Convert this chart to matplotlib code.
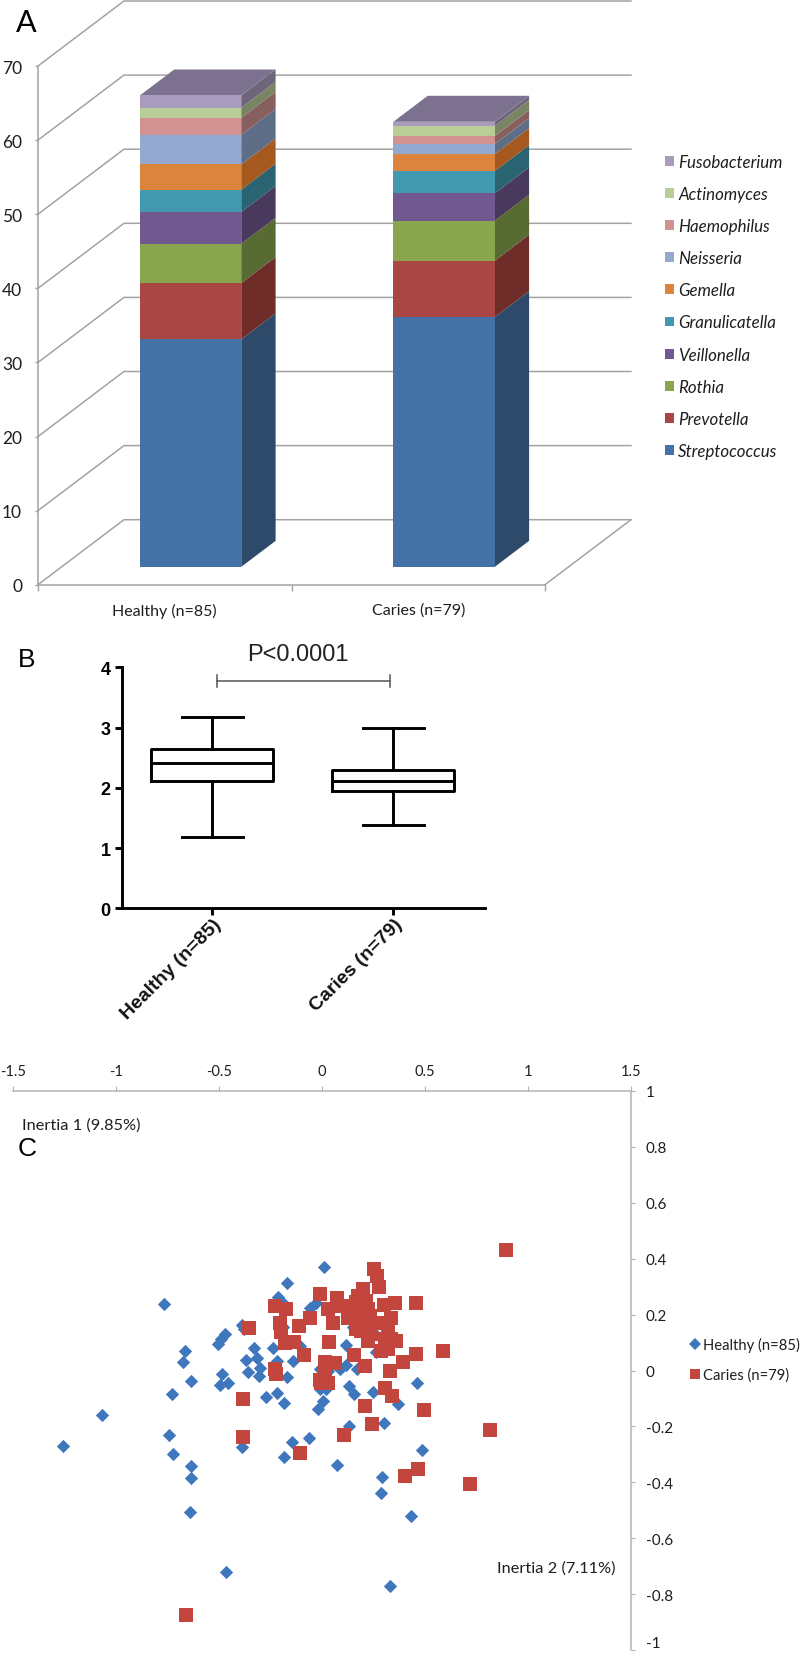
import matplotlib
matplotlib.use("Agg")
import matplotlib.pyplot as plt
from matplotlib.patches import Patch
from matplotlib.lines import Line2D

W, H = 800, 1656

# ---------- data ----------
groups_a = ["Healthy (n=85)", "Caries (n=79)"]
genera = ["Streptococcus", "Prevotella", "Rothia", "Veillonella", "Granulicatella",
          "Gemella", "Neisseria", "Haemophilus", "Actinomyces", "Fusobacterium"]
healthy_abund = [30.7, 7.6, 5.3, 4.3, 3.0, 3.4, 4.0, 2.3, 1.35, 1.66]
caries_abund = [33.7, 7.6, 5.4, 3.7, 3.0, 2.3, 1.35, 1.08, 1.35, 0.58]
front_colors = ["#4472A7", "#AA4643", "#89A54E", "#71588F", "#4198AF",
                "#DB843D", "#93A9CF", "#D19392", "#B9CD96", "#A99BBD"]
side_colors = ["#2E4A6B", "#6F2D2A", "#586B32", "#493A5D", "#2A6372",
               "#A5591F", "#5F6E87", "#885F5F", "#798562", "#6E657B"]
top_color = "#7C7290"

box_healthy = dict(whislo=1.19, q1=2.12, med=2.41, q3=2.645, whishi=3.18, fliers=[])
box_caries = dict(whislo=1.39, q1=1.94, med=2.11, q3=2.30, whishi=3.00, fliers=[])

healthy_x = [-1.256, -1.068, -0.765, -0.665, -0.672, -0.633, -0.725, -0.743, -0.722, -0.633,
             -0.633, -0.641, -0.388, -0.184, -0.144, -0.063, 0.073, 0.293, 0.288, 0.133,
             0.303, -0.503, -0.487, -0.468, -0.385, -0.379, -0.482, -0.492, -0.456, -0.369,
             -0.330, -0.312, -0.358, -0.298, -0.304, -0.272, -0.218, -0.181, -0.236, -0.218,
             -0.168, -0.139, -0.212, -0.168, 0.013, -0.184, -0.018, 0.006, -0.010, 0.019,
             0.031, 0.120, 0.120, 0.172, 0.131, 0.155, 0.249, 0.371, 0.087, -0.058,
             -0.026, -0.107, 0.152, 0.257, 0.265, -0.188, 0.489, 0.432, 0.330, -0.463,
             0.463, -0.010]
healthy_y = [-0.269, -0.160, 0.237, 0.070, 0.031, -0.036, -0.085, -0.232, -0.299, -0.340,
             -0.385, -0.507, -0.275, -0.308, -0.254, -0.240, -0.336, -0.379, -0.438, -0.198,
             -0.186, 0.093, 0.114, 0.130, 0.162, 0.148, -0.011, -0.052, -0.043, 0.037,
             0.079, 0.046, -0.006, 0.008, -0.021, -0.096, -0.082, -0.115, 0.082, 0.035,
             -0.023, 0.035, 0.261, 0.314, 0.370, 0.237, -0.136, -0.108, -0.067, -0.067,
             -0.001, 0.090, 0.020, 0.005, -0.055, -0.085, -0.076, -0.120, 0.005, 0.225,
             0.243, 0.088, 0.154, 0.130, 0.067, 0.154, -0.285, -0.521, -0.769, -0.721,
             -0.046, 0.005]
caries_x = [-0.353, -0.382, -0.382, 0.108, -0.104, 0.244, 0.209, 0.309, 0.343, 0.333,
            0.212, 0.159, 0.034, 0.063, 0.015, -0.228, -0.220, -0.010, 0.031, -0.002,
            -0.087, -0.136, -0.180, -0.196, -0.204, -0.112, -0.172, -0.228, -0.058, -0.010,
            0.055, 0.074, 0.100, 0.031, 0.128, 0.201, 0.184, 0.217, 0.252, 0.270,
            0.278, 0.176, 0.193, 0.217, 0.233, 0.273, 0.225, 0.301, 0.354, 0.338,
            0.322, 0.338, 0.290, 0.322, 0.362, 0.456, 0.460, 0.395, 0.495, 0.589,
            0.895, 0.816, 0.468, 0.406, 0.720, -0.657, 0.168, 0.176, 0.225, 0.168,
            0.225, 0.233, 0.306, 0.015, 0.200, 0.190, 0.210, 0.240, 0.160]
caries_y = [0.152, -0.102, -0.236, -0.231, -0.296, -0.192, -0.126, -0.061, -0.090, -0.001,
            0.017, 0.056, 0.102, 0.026, 0.029, 0.005, -0.013, -0.035, -0.043, -0.043,
            0.055, 0.102, 0.100, 0.138, 0.169, 0.160, 0.219, 0.229, 0.189, 0.273,
            0.171, 0.258, 0.231, 0.219, 0.189, 0.293, 0.249, 0.249, 0.362, 0.336,
            0.298, 0.195, 0.177, 0.160, 0.195, 0.171, 0.106, 0.235, 0.240, 0.186,
            0.148, 0.112, 0.070, 0.076, 0.106, 0.240, 0.058, 0.031, -0.142, 0.070,
            0.430, -0.211, -0.352, -0.376, -0.406, -0.873, 0.244, 0.266, 0.219, 0.147,
            0.172, 0.137, 0.112, -0.019, 0.220, 0.140, 0.190, 0.130, 0.210]

# ---------- layout helpers ----------
LATO = ["Lato", "DejaVu Sans"]
ARIAL = ["Liberation Sans", "DejaVu Sans"]
GRID = "#A3A3A3"
TXT = "#1E1E1E"

fig = plt.figure(figsize=(W / 100, H / 100), dpi=100, facecolor="white")


def axes_px(left, top, right, bottom):
    return fig.add_axes([left / W, 1 - bottom / H, (right - left) / W, (bottom - top) / H])


def fx(px):
    return px / W


def fy(py):
    return 1 - py / H


# ---------- panel A ----------
ax = axes_px(38, 0, 640, 585.7)
ax.set_xlim(0, (640 - 38) / 253.5)
ax.set_ylim(0, 585.7 / 7.41)
ax.patch.set_alpha(0)
DX, DY = 0.339, 8.77   # oblique depth vector
BAR_DROP = 0.22        # bars sit slightly lower on the floor than the exact mid-depth


def proj(c, v, d):
    return c + d * DX, v + d * DY


levels = list(range(0, 80, 10))
for v in levels:
    pts = [proj(0, v, 0), proj(0, v, 1), proj(2, v, 1)]
    ax.plot(*zip(*pts), color=GRID, lw=1.1, clip_on=False, zorder=1, solid_joinstyle="miter")
floor = [proj(2, 0, 0), proj(2, 0, 1)]
ax.plot(*zip(*floor), color=GRID, lw=1.1, clip_on=False, zorder=1)

centres = [0.5, 1.5]
BAR_W = 0.4
D0, D1 = 0.3, 0.7
for c, vals in zip(centres, [healthy_abund, caries_abund]):
    base = -BAR_DROP
    for v, fc, sc in zip(vals, front_colors, side_colors):
        x0, y0 = proj(c, base, D0)
        ax.bar(x0, v, BAR_W, bottom=y0, color=fc, edgecolor="none", zorder=4)
        r = c + BAR_W / 2
        side = [proj(r, base, D0), proj(r, base + v, D0), proj(r, base + v, D1), proj(r, base, D1)]
        ax.fill(*zip(*side), color=sc, lw=0, zorder=3)
        base += v
    l = c - BAR_W / 2
    r = c + BAR_W / 2
    top = [proj(l, base, D0), proj(r, base, D0), proj(r, base, D1), proj(l, base, D1)]
    ax.fill(*zip(*top), color=top_color, lw=0, zorder=3)

for s in ["top", "right"]:
    ax.spines[s].set_visible(False)
ax.spines["left"].set_bounds(0, 70)
ax.spines["bottom"].set_bounds(0, 2)
for s in ["left", "bottom"]:
    ax.spines[s].set_color(GRID)
    ax.spines[s].set_linewidth(1.1)
ax.set_yticks(levels)
ax.set_xticks([0, 1, 2])
ax.set_xticklabels(["", "", ""])
ax.set_xticks(centres, minor=True)
ax.set_xticklabels(groups_a, minor=True, fontfamily=LATO, fontsize=11.5, color=TXT)
ax.tick_params(axis="x", which="major", length=4.5, width=1.0, color=GRID)
ax.tick_params(axis="x", which="minor", length=0, pad=13)
ax.tick_params(axis="y", length=2, width=1.0, color=GRID, pad=9.5, labelcolor=TXT, labelsize=12.5)
for t in ax.get_yticklabels():
    t.set_fontfamily(LATO)

handles_a = [Patch(facecolor=c, edgecolor="none") for c in front_colors[::-1]]
leg = ax.legend(handles_a, genera[::-1], loc="upper left",
                bbox_to_anchor=(fx(665), fy(155)), bbox_transform=fig.transFigure,
                frameon=False, borderpad=0, borderaxespad=0, labelspacing=0.95,
                handlelength=0.52, handleheight=0.52, handletextpad=0.26,
                prop={"family": LATO, "size": 12.2, "style": "italic"})
for t in leg.get_texts():
    t.set_color(TXT)

fig.text(fx(26.5), fy(23), "A", fontfamily=LATO, fontsize=22, color="black", ha="center", va="center")

# ---------- panel B ----------
bx = axes_px(121.7, 668.3, 485, 909.3)
bx.set_xlim(1 - 90.6 / 181, 2 + 91.7 / 181)
bx.set_ylim(0, 4)
bx.patch.set_alpha(0)
LW = 2.1
line = dict(color="black", linewidth=LW)
bx.bxp([box_healthy, box_caries], positions=[1, 2], widths=0.672, capwidths=0.337,
       showfliers=False, boxprops=line, medianprops=line, whiskerprops=line, capprops=line)
for s in ["top", "right"]:
    bx.spines[s].set_visible(False)
for s in ["left", "bottom"]:
    bx.spines[s].set_linewidth(LW)
bx.set_yticks([0, 1, 2, 3, 4])
bx.set_xticks([1, 2])
bx.set_xticklabels(groups_a, rotation=45, ha="right", rotation_mode="anchor",
                   fontfamily=ARIAL, fontweight="bold", fontsize=14, color="#111111")
bx.tick_params(axis="both", length=5, width=LW, pad=3)
bx.tick_params(axis="x", pad=0)
for t in bx.get_yticklabels():
    t.set_fontfamily(ARIAL)
    t.set_fontweight("bold")
    t.set_fontsize(13)
bx.plot([1.024, 1.98], [3.78, 3.78], color="#555555", lw=1.1, clip_on=False)
for xb in [1.024, 1.98]:
    bx.plot([xb, xb], [3.68, 3.88], color="#555555", lw=1.1, clip_on=False)
bx.text(1.475, 4.22, "P<0.0001", fontfamily=ARIAL, fontsize=17, color="#222222",
        ha="center", va="center", clip_on=False)
fig.text(fx(27), fy(660), "B", fontfamily=ARIAL, fontsize=19, color="black", ha="center", va="center")

# ---------- panel C ----------
cx = axes_px(12.7, 1091.7, 630.7, 1651.3)
cx.set_xlim(-1.5, 1.5)
cx.set_ylim(-1, 1)
cx.patch.set_alpha(0)
BLUE, RED = "#3F77BD", "#C2453E"
cx.scatter(healthy_x, healthy_y, marker="D", s=46, color=BLUE, linewidths=0, zorder=3, clip_on=False)
cx.scatter(caries_x, caries_y, marker="s", s=92, color=RED, linewidths=0, zorder=4, clip_on=False)
for s in ["left", "bottom"]:
    cx.spines[s].set_visible(False)
for s in ["top", "right"]:
    cx.spines[s].set_color("#B4B4B4")
    cx.spines[s].set_linewidth(1.1)
xt = [-1.5, -1, -0.5, 0, 0.5, 1, 1.5]
yt = [1, 0.8, 0.6, 0.4, 0.2, 0, -0.2, -0.4, -0.6, -0.8, -1]
cx.set_xticks(xt)
cx.set_xticklabels([f"{v:g}" for v in xt], fontfamily=LATO, fontsize=10.5, color=TXT)
cx.set_yticks(yt)
cx.set_yticklabels([f"{v:g}" for v in yt], fontfamily=LATO, fontsize=11, color=TXT)
cx.xaxis.tick_top()
cx.yaxis.tick_right()
cx.tick_params(axis="x", length=3.5, width=0.8, color="#B4B4B4", pad=6)
cx.tick_params(axis="y", length=3, width=0.8, color="#B4B4B4", pad=8)
cx.get_yticklabels()[-1].set_verticalalignment("bottom")

handles_c = [Line2D([], [], ls="", marker="D", ms=6.2, color=BLUE, mew=0),
             Line2D([], [], ls="", marker="s", ms=7.4, color=RED, mew=0)]
leg_c = cx.legend(handles_c, ["Healthy (n=85)", "Caries (n=79)"], loc="upper left",
                  bbox_to_anchor=(fx(688), fy(1338)), bbox_transform=fig.transFigure,
                  frameon=False, borderpad=0, borderaxespad=0, labelspacing=1.05,
                  handlelength=0.9, handletextpad=0.1, numpoints=1,
                  prop={"family": LATO, "size": 10.6})
for t in leg_c.get_texts():
    t.set_color(TXT)

fig.text(fx(22), fy(1125.7), "Inertia 1 (9.85%)", fontfamily=LATO, fontsize=11.75, color=TXT, va="center")
fig.text(fx(496.7), fy(1569), "Inertia 2 (7.11%)", fontfamily=LATO, fontsize=11.75, color=TXT, va="center")
fig.text(fx(27), fy(1149), "C", fontfamily=ARIAL, fontsize=19, color="black", ha="center", va="center")

fig.savefig("out.png", dpi=100)
